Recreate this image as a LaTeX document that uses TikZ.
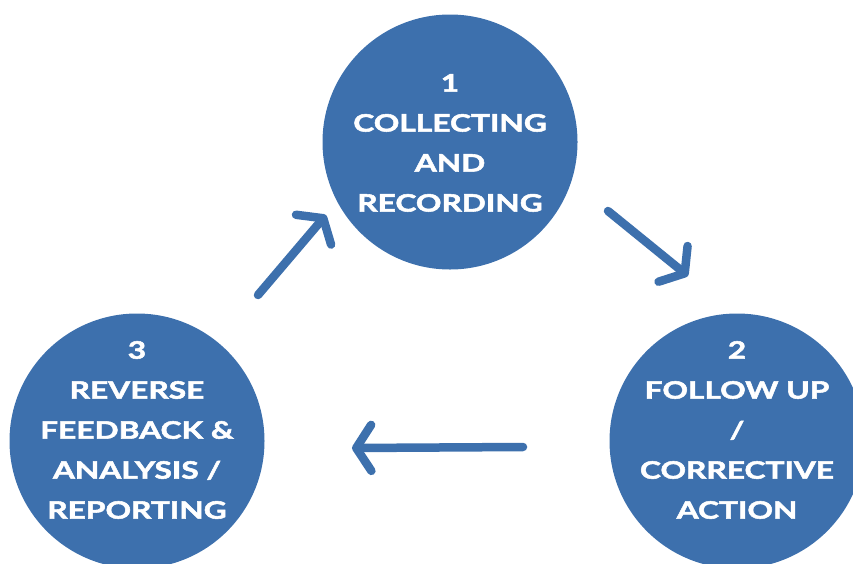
\documentclass[tikz,border=0pt]{standalone}
\usepackage{fontspec}
\setmainfont{Lato}[FakeStretch=1.32, BoldFeatures={FakeBold=2.2}]
\usetikzlibrary{arrows.meta}
\definecolor{cycleblue}{RGB}{61,112,173}
\tikzset{
  stage/.style={circle, fill=cycleblue, minimum size=255pt, inner sep=0pt},
  stagetext/.style={text=white, align=center, inner sep=0pt,
    font=\fontsize{24}{40}\selectfont\bfseries},
  flow/.style={draw=cycleblue, line width=8.5pt, line cap=round,
    -{Straight Barb[length=15pt, width=46pt, round]}},
}
\begin{document}
\begin{tikzpicture}[x=1pt, y=-1pt]
  \useasboundingbox (0,0) rectangle (853,563);
  \clip (0,0) rectangle (853,563);

  % the three stages of the cycle
  \node[stage] (c1) at (450,142) {};
  \node[stage] (c2) at (737,441) {};
  \node[stage] (c3) at (137,441) {};

  \node[stagetext] (t1) at (450,143) {1\\COLLECTING\\AND\\RECORDING};
  \node[stagetext] (t2) at (737,430) {2\\FOLLOW UP\\/\\CORRECTIVE\\ACTION};
  \node[stagetext] (t3) at (137,430) {3\\REVERSE\\FEEDBACK \&\\ANALYSIS /\\REPORTING};

  % arrow end points between the stages
  \coordinate (a1s) at (258,295);
  \coordinate (a1e) at (326,215);
  \coordinate (a2s) at (608,211);
  \coordinate (a2e) at (688,276);
  \coordinate (a3s) at (523,447);
  \coordinate (a3e) at (352,448);

  \draw[flow] (a1s) -- (a1e);
  \draw[flow] (a2s) -- (a2e);
  \draw[flow] (a3s) -- (a3e);
\end{tikzpicture}
\end{document}
